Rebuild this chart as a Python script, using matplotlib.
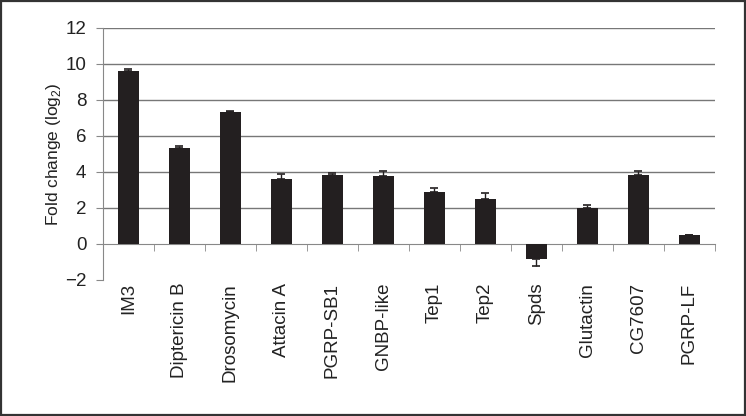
import matplotlib
matplotlib.use("Agg")
import matplotlib.pyplot as plt
import numpy as np
from matplotlib.patches import Rectangle

plt.rcParams['font.family'] = ['Liberation Sans', 'DejaVu Sans']
plt.rcParams['mathtext.fontset'] = 'custom'
plt.rcParams['mathtext.rm'] = 'Liberation Sans'

genes = ["IM3", "Diptericin B", "Drosomycin", "Attacin A", "PGRP-SB1", "GNBP-like",
         "Tep1", "Tep2", "Spds", "Glutactin", "CG7607", "PGRP-LF"]
fold_change = [9.63, 5.35, 7.31, 3.61, 3.85, 3.78, 2.87, 2.52, -0.83, 2.02, 3.83, 0.50]
error = [0.10, 0.09, 0.09, 0.28, 0.08, 0.26, 0.26, 0.30, 0.39, 0.16, 0.24, 0.0]
yticks = [-2, 0, 2, 4, 6, 8, 10, 12]

fig = plt.figure(figsize=(7.46, 4.16), dpi=100)
fig.patches.append(Rectangle((0.002, 0.003), 0.996, 0.994, transform=fig.transFigure,
                             fill=False, edgecolor='#333333', linewidth=1.6))
ax = fig.add_axes([0.138, 0.327, 0.82, 0.606])

x = np.arange(len(genes))
vals = np.array(fold_change)
err = np.array(error)
lower = np.where(vals < 0, err, 0)
upper = np.where(vals >= 0, err, 0)

ax.bar(x, vals, width=0.41, color='#231f20', zorder=3)
ax.errorbar(x, vals, yerr=[lower, upper], fmt='none', ecolor='#231f20',
            elinewidth=1.0, capsize=2.8, capthick=1.2, zorder=4)

ax.set_xlim(-0.5, len(genes) - 0.5)
ax.set_ylim(-2, 12)
ax.set_yticks(yticks)
ax.set_yticklabels([("\u2212%d" % -t) if t < 0 else str(t) for t in yticks])
for t in yticks:
    if t > 0:
        ax.axhline(t, color='#777777', linewidth=1.0, zorder=1)

for s in ['top', 'right']:
    ax.spines[s].set_visible(False)
ax.spines['left'].set_color('#888888')
ax.spines['bottom'].set_color('#888888')
ax.spines['bottom'].set_position(('data', 0))
ax.spines['bottom'].set_zorder(2)

ax.set_xticks(x)
ax.set_xticklabels(genes, rotation=90, va='top', ha='center')
ax.set_xticks(np.arange(len(genes) + 1) - 0.5, minor=True)
ax.tick_params(axis='x', which='major', length=0, pad=28, labelsize=13.5, labelcolor='#222222')
ax.tick_params(axis='x', which='minor', length=5, direction='out', color='#888888')
ax.tick_params(axis='y', length=5, direction='out', color='#888888', labelsize=13.5,
               labelcolor='#222222', pad=7)

ax.set_ylabel(r'Fold change (log$_\mathregular{2}$)', fontsize=12.5, color='#222222', labelpad=1)

fig.savefig("out.png", dpi=100)
